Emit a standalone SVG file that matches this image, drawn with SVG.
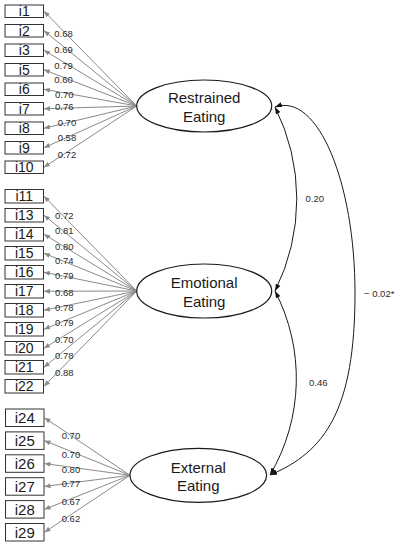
<svg xmlns="http://www.w3.org/2000/svg" width="402" height="550" viewBox="0 0 402 550">
<defs>
<style>
.box rect{fill:#fff;stroke:#333;stroke-width:1}
.box text{font-family:"Liberation Sans",Arial,sans-serif;font-size:14px;fill:#1a1a1a;text-anchor:middle}
.big text{font-size:15px}
.lat ellipse{fill:#fff;stroke:#1a1a1a;stroke-width:1.2}
.lat text{font-family:"Liberation Sans",Arial,sans-serif;font-size:15px;fill:#1a1a1a;text-anchor:middle}
.load{stroke:#8a8a8a;stroke-width:1;fill:none;marker-end:url(#ga)}
.cov{stroke:#1a1a1a;stroke-width:1;fill:none;marker-start:url(#ba);marker-end:url(#ba)}
.lbl{font-family:"Liberation Sans",Arial,sans-serif;font-size:9.5px;fill:#2a2a2a}
</style>
<marker id="ga" viewBox="0 0 6 5" refX="6" refY="2.5" markerWidth="6" markerHeight="5" markerUnits="userSpaceOnUse" orient="auto"><path d="M0,0L6,2.5L0,5z" fill="#8a8a8a"/></marker>
<marker id="ba" viewBox="0 0 7 5" refX="7" refY="2.5" markerWidth="7" markerHeight="5" markerUnits="userSpaceOnUse" orient="auto-start-reverse"><path d="M0,0L7,2.5L0,5z" fill="#111"/></marker>
</defs>
<rect width="402" height="550" fill="#fff"/>
<g id="connectors">
<g class="load">
<path d="M136.7,106L44,11.25"/><path d="M136.7,106L44,30.75"/><path d="M136.7,106L44,50.25"/><path d="M136.7,106L44,69.75"/><path d="M136.7,106L44,89.25"/><path d="M136.7,106L44,108.75"/><path d="M136.7,106L44,128.25"/><path d="M136.7,106L44,147.75"/><path d="M136.7,106L44,167.25"/>
<path d="M136.7,291L44,196.25"/><path d="M136.7,291L44,215.25"/><path d="M136.7,291L44,234.25"/><path d="M136.7,291L44,253.25"/><path d="M136.7,291L44,272.25"/><path d="M136.7,291L44,291.25"/><path d="M136.7,291L44,310.25"/><path d="M136.7,291L44,329.25"/><path d="M136.7,291L44,348.25"/><path d="M136.7,291L44,367.25"/><path d="M136.7,291L44,386.25"/>
<path d="M130,475.3L44.5,417.75"/><path d="M130,475.3L44.5,440.65"/><path d="M130,475.3L44.5,463.55"/><path d="M130,475.3L44.5,486.45"/><path d="M130,475.3L44.5,509.35"/><path d="M130,475.3L44.5,532.25"/>
</g>
<g class="lbl">
<text x="54.3" y="36.8">0.68</text><text x="54.3" y="52.8">0.69</text><text x="54.3" y="69.2">0.79</text><text x="54.3" y="82.5">0.60</text><text x="55" y="97.8">0.70</text><text x="55" y="110.2">0.76</text><text x="57.7" y="126.2">0.70</text><text x="57.7" y="140.8">0.58</text><text x="57.7" y="157.8">0.72</text>
<text x="55" y="218.5">0.72</text><text x="55" y="234.2">0.81</text><text x="55" y="250.2">0.80</text><text x="55" y="264.2">0.74</text><text x="55" y="279.2">0.79</text><text x="55" y="295.8">0.68</text><text x="55" y="311.2">0.78</text><text x="55" y="325.8">0.79</text><text x="55" y="342.5">0.70</text><text x="55" y="359.2">0.78</text><text x="55" y="375.5">0.88</text>
<text x="61.7" y="439.2">0.70</text><text x="61.7" y="457.8">0.70</text><text x="61.7" y="472.5">0.80</text><text x="61.7" y="486.8">0.77</text><text x="61.7" y="504.5">0.67</text><text x="61.7" y="521.8">0.62</text>
</g>
<path class="cov" d="M275,107A205,205 0 0 1 275,291"/>
<path class="cov" d="M275,291A190,190 0 0 1 270,475"/>
<path class="cov" d="M275,107C318,92 355,183 355,293C355,410 325,452 270,475"/>
<g class="lbl"><text x="305.5" y="201.5">0.20</text><text x="309" y="386">0.46</text><text x="364" y="296.5">− 0.02*</text></g>
</g>
<g id="n_i1" class="box"><rect x="5" y="5" width="38.5" height="12.5"/><text x="24.25" y="16.2">i1</text></g>
<g id="n_i2" class="box"><rect x="5" y="24.5" width="38.5" height="12.5"/><text x="24.25" y="35.7">i2</text></g>
<g id="n_i3" class="box"><rect x="5" y="44" width="38.5" height="12.5"/><text x="24.25" y="55.2">i3</text></g>
<g id="n_i5" class="box"><rect x="5" y="63.5" width="38.5" height="12.5"/><text x="24.25" y="74.7">i5</text></g>
<g id="n_i6" class="box"><rect x="5" y="83" width="38.5" height="12.5"/><text x="24.25" y="94.2">i6</text></g>
<g id="n_i7" class="box"><rect x="5" y="102.5" width="38.5" height="12.5"/><text x="24.25" y="113.7">i7</text></g>
<g id="n_i8" class="box"><rect x="5" y="122" width="38.5" height="12.5"/><text x="24.25" y="133.2">i8</text></g>
<g id="n_i9" class="box"><rect x="5" y="141.5" width="38.5" height="12.5"/><text x="24.25" y="152.7">i9</text></g>
<g id="n_i10" class="box"><rect x="5" y="161" width="38.5" height="12.5"/><text x="24.25" y="172.2">i10</text></g>
<g id="n_i11" class="box"><rect x="5" y="189.5" width="38.5" height="13.5"/><text x="24.25" y="201.2">i11</text></g>
<g id="n_i13" class="box"><rect x="5" y="208.5" width="38.5" height="13.5"/><text x="24.25" y="220.2">i13</text></g>
<g id="n_i14" class="box"><rect x="5" y="227.5" width="38.5" height="13.5"/><text x="24.25" y="239.2">i14</text></g>
<g id="n_i15" class="box"><rect x="5" y="246.5" width="38.5" height="13.5"/><text x="24.25" y="258.2">i15</text></g>
<g id="n_i16" class="box"><rect x="5" y="265.5" width="38.5" height="13.5"/><text x="24.25" y="277.2">i16</text></g>
<g id="n_i17" class="box"><rect x="5" y="284.5" width="38.5" height="13.5"/><text x="24.25" y="296.2">i17</text></g>
<g id="n_i18" class="box"><rect x="5" y="303.5" width="38.5" height="13.5"/><text x="24.25" y="315.2">i18</text></g>
<g id="n_i19" class="box"><rect x="5" y="322.5" width="38.5" height="13.5"/><text x="24.25" y="334.2">i19</text></g>
<g id="n_i20" class="box"><rect x="5" y="341.5" width="38.5" height="13.5"/><text x="24.25" y="353.2">i20</text></g>
<g id="n_i21" class="box"><rect x="5" y="360.5" width="38.5" height="13.5"/><text x="24.25" y="372.2">i21</text></g>
<g id="n_i22" class="box"><rect x="5" y="379.5" width="38.5" height="13.5"/><text x="24.25" y="391.2">i22</text></g>
<g id="n_i24" class="box big"><rect x="5.5" y="409" width="38.5" height="17.5"/><text x="24.75" y="423.1">i24</text></g>
<g id="n_i25" class="box big"><rect x="5.5" y="431.9" width="38.5" height="17.5"/><text x="24.75" y="446">i25</text></g>
<g id="n_i26" class="box big"><rect x="5.5" y="454.8" width="38.5" height="17.5"/><text x="24.75" y="468.9">i26</text></g>
<g id="n_i27" class="box big"><rect x="5.5" y="477.7" width="38.5" height="17.5"/><text x="24.75" y="491.8">i27</text></g>
<g id="n_i28" class="box big"><rect x="5.5" y="500.6" width="38.5" height="17.5"/><text x="24.75" y="514.7">i28</text></g>
<g id="n_i29" class="box big"><rect x="5.5" y="523.5" width="38.5" height="17.5"/><text x="24.75" y="537.6">i29</text></g>
<g id="n_restrained" class="lat"><ellipse cx="204.2" cy="106" rx="67.5" ry="26"/><text x="204.2" y="103.3">Restrained</text><text x="204.2" y="121.7">Eating</text></g>
<g id="n_emotional" class="lat"><ellipse cx="204.2" cy="291" rx="67.5" ry="27"/><text x="204.2" y="288.3">Emotional</text><text x="204.2" y="306.7">Eating</text></g>
<g id="n_external" class="lat"><ellipse cx="198.3" cy="475.3" rx="68.3" ry="27"/><text x="198.3" y="472.6">External</text><text x="198.3" y="491">Eating</text></g>
</svg>
